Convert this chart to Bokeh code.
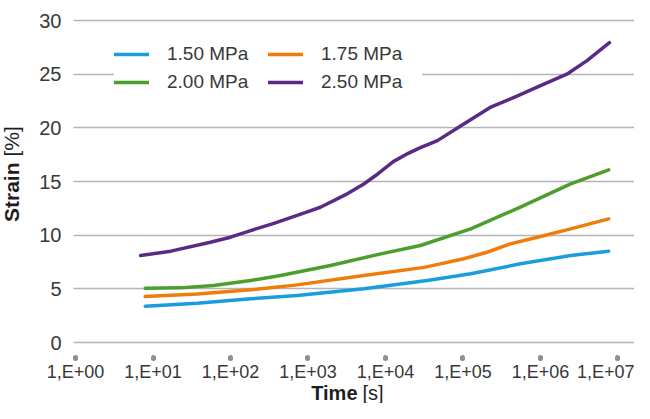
import math
from bokeh.plotting import figure
from bokeh.models import Range1d, FixedTicker, Legend, LegendItem, Label
from bokeh.embed import file_html
from bokeh.resources import INLINE

# ---- data (time in s, strain in %) ----
t_150 = [7.94, 37.2, 182, 724, 5248, 34670, 125900, 549500, 2455000, 7586000]
s_150 = [3.38, 3.66, 4.07, 4.38, 5.00, 5.78, 6.40, 7.33, 8.10, 8.51]

t_175 = [7.94, 37.2, 182, 724, 5248, 31620, 102300, 204200, 407400, 912000, 2455000, 7586000]
s_175 = [4.28, 4.53, 4.91, 5.37, 6.24, 7.00, 7.80, 8.41, 9.19, 9.81, 10.59, 11.52]

t_200 = [7.94, 22.4, 60.3, 182, 442, 1950, 8710, 28180, 125900, 549500, 2455000, 7586000]
s_200 = [5.06, 5.09, 5.31, 5.78, 6.24, 7.17, 8.26, 9.04, 10.59, 12.61, 14.78, 16.08]

t_250 = [6.92, 17.0, 55.0, 100, 182, 363, 1000, 1445, 3020, 5248, 7943, 12590, 19950, 28180, 46770,
         102300, 223900, 457100, 1000000, 2188000, 3981000, 7762000]
s_250 = [8.10, 8.51, 9.34, 9.81, 10.43, 11.10, 12.20, 12.60, 13.75, 14.77, 15.70, 16.85, 17.65, 18.15,
         18.81, 20.36, 21.90, 22.84, 23.93, 25.00, 26.26, 27.93]

series_names = ["1.50 MPa", "1.75 MPa", "2.00 MPa", "2.50 MPa"]
series_colors = ["#1b9ddb", "#f07c0c", "#4c9f2c", "#5a2b86"]

x_ticks = [1, 10, 100, 1000, 10000, 100000, 1000000, 10000000]
x_tick_labels = ["1,E+00", "1,E+01", "1,E+02", "1,E+03", "1,E+04", "1,E+05", "1,E+06", "1,E+07"]
y_ticks = [0, 5, 10, 15, 20, 25, 30]

# plot area limits (where grid lines start/end, where axes sit)
area_x = (0.9423, 1.633e7)
axis_y = -1.40

FONT = "Liberation Sans"
TXT = "#383838"

p = figure(width=634, height=403, output_backend="svg", toolbar_location=None,
           x_axis_type="log",
           x_range=Range1d(0.1077, 1.633e7), y_range=Range1d(-5.683, 31.864),
           min_border_left=0, min_border_right=0, min_border_top=0, min_border_bottom=0)
p.outline_line_color = None
p.background_fill_color = "white"
p.border_fill_color = "white"

# grid
p.xgrid.visible = False
yg = p.ygrid[0]
yg.ticker = FixedTicker(ticks=y_ticks)
yg.grid_line_color = "#b5b5b5"
yg.grid_line_width = 1.5
if "cross_bounds" in yg.properties():
    yg.cross_bounds = area_x
else:
    yg.visible = False
    p.segment(x0=[area_x[0]] * len(y_ticks), x1=[area_x[1]] * len(y_ticks), y0=y_ticks, y1=y_ticks,
              line_color="#b5b5b5", line_width=1.5)

renderers = []
for t, s, c in zip([t_150, t_175, t_200, t_250], [s_150, s_175, s_200, s_250], series_colors):
    r = p.line(t, s, line_color=c, line_width=3.5, line_join="round", line_cap="round")
    renderers.append(r)

# x axis
xa = p.xaxis[0]
xa.fixed_location = axis_y
xa.ticker = FixedTicker(ticks=x_ticks, minor_ticks=[])
xa.major_label_overrides = {k: v for k, v in zip(x_ticks, x_tick_labels)}
xa.axis_line_color = None
xa.major_tick_in = 0
xa.major_tick_out = 1
xa.major_tick_line_width = 5
xa.major_tick_line_cap = "round"
xa.major_tick_line_color = "#8e8e8e"
xa.minor_tick_line_color = None
xa.major_label_standoff = 3
xa.major_label_text_font = FONT
xa.major_label_text_font_size = "18px"
xa.major_label_text_color = TXT

# y axis
ya = p.yaxis[0]
ya.fixed_location = area_x[0]
ya.ticker = FixedTicker(ticks=y_ticks, minor_ticks=[])
ya.axis_line_color = None
ya.major_tick_line_color = None
ya.major_tick_in = 0
ya.major_tick_out = 0
ya.minor_tick_line_color = None
ya.major_label_standoff = 12
ya.major_label_text_font = FONT
ya.major_label_text_font_size = "20px"
ya.major_label_text_color = TXT

# legend (column-major order for 2 columns)
order = [0, 2, 1, 3]
items = [LegendItem(label=series_names[i], renderers=[renderers[i]]) for i in order]
legend = Legend(items=items, ncols=2, location=(114, 307),
                glyph_width=35, glyph_height=28, label_height=28, label_width=101,
                label_standoff=18, spacing=0, padding=12, margin=0,
                border_line_color=None, background_fill_color="white", background_fill_alpha=1.0,
                label_text_font=FONT, label_text_font_size="19px", label_text_color=TXT)
p.add_layout(legend, "center")

# axis titles (bold + normal parts)
common = dict(x_units="screen", y_units="screen", text_font=FONT,
              text_font_size="20px", text_color="#1e1e1e", text_baseline="middle")
p.add_layout(Label(x=357, y=11, text="Time", text_font_style="bold", text_align="right", **common))
p.add_layout(Label(x=362, y=11, text="[s]", text_font_style="normal", text_align="left", **common))
p.add_layout(Label(x=11, y=241, text="Strain", angle=math.pi / 2, text_font_style="bold",
                   text_align="right", **dict(common, text_font_size="21px")))
p.add_layout(Label(x=11, y=247, text="[%]", angle=math.pi / 2, text_font_style="normal",
                   text_align="left", **dict(common, text_font_size="21px")))

open("out.html", "w").write(file_html(p, INLINE))
